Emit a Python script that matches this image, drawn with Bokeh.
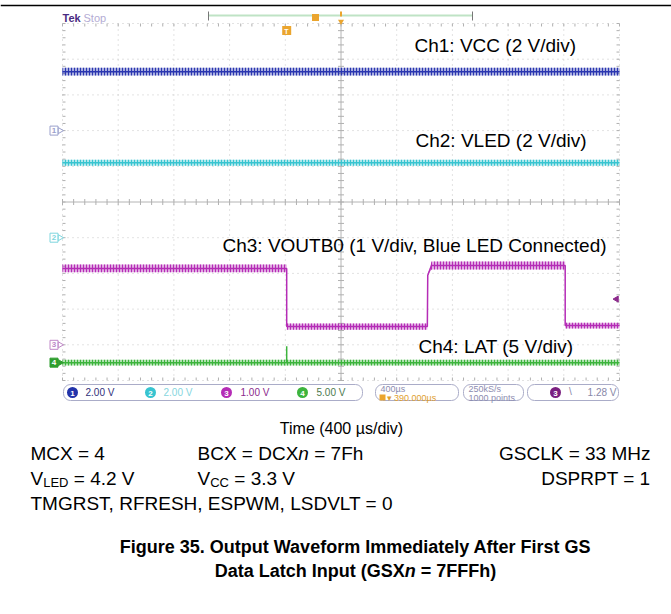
import numpy as np
from bokeh.plotting import figure
from bokeh.models import Range1d
from bokeh.core.properties import value
from bokeh.embed import file_html
from bokeh.resources import INLINE

# ---------------- data ----------------
time_per_div_us = 400
horiz_position_us = 390          # trigger sits 390 us left of screen centre
n_hdiv = 10
n_vdiv = 10

ch_labels = ["Ch1: VCC (2 V/div)", "Ch2: VLED (2 V/div)",
             "Ch3: VOUTB0 (1 V/div, Blue LED Connected)", "Ch4: LAT (5 V/div)"]
ch_colors = ["#2a36b0", "#38c4d0", "#b52cb6", "#3db43d"]
volts_per_div = [2.0, 2.0, 1.0, 5.0]
ground_div = [2.0, -1.0, -4.0, -4.5]        # channel ground markers
scale_texts = ["2.00 V", "2.00 V", "1.00 V", "5.00 V"]
scale_text_colors = ["#30307a", "#86d6de", "#8c2a8c", "#4d7a4d"]

vcc_t_us = [-1610, 2390]
vcc_v = [3.3, 3.3]
vcc_noise_v = [0.22, 0.22]

vled_t_us = [-1610, 2390]
vled_v = [4.2, 4.2]
vled_noise_v = [0.17, 0.17]

voutb0_t_us = [-1610, 0, 0, 1010, 1013, 1040, 2000, 2000, 2390]
voutb0_v = [2.14, 2.14, 0.51, 0.51, 1.95, 2.22, 2.22, 0.54, 0.54]
voutb0_noise_v = [0.11, 0.11, 0.09, 0.09, 0.0, 0.11, 0.11, 0.08, 0.08]

lat_t_us = [-1610, 0, 0, 0, 2390]
lat_v = [0.0, 0.0, 2.3, 0.0, 0.0]
lat_noise_v = [0.4, 0.4, 0.0, 0.4, 0.4]

trigger_level_v = 1.28
timebase_text = "400µs"
position_text = "▾ 390.000µs"
sample_rate_text = "250kS/s"
record_text = "1000 points"
trig_text = "1.28 V"

axis_title = "Time (400 µs/div)"
caption1 = "Figure 35. Output Waveform Immediately After First GS"

# ---------------- geometry (page pixels -> scope units) ----------------
W, H = 671, 614
T_LEFT = horiz_position_us - n_hdiv / 2 * time_per_div_us
T_RIGHT = T_LEFT + n_hdiv * time_per_div_us
PX_PER_US = 55.7 / time_per_div_us
PX_PER_DIV = 35.7
T_CENTER = T_LEFT + n_hdiv / 2 * time_per_div_us
VTOP = n_vdiv / 2


def X(ix):
    return T_LEFT + (ix - 62) / PX_PER_US


def Y(iy):
    return (201.5 - iy) / PX_PER_DIV


p = figure(width=W, height=H, x_range=Range1d(X(0), X(W)),
           y_range=Range1d(Y(H), Y(0)), x_axis_type=None, y_axis_type=None,
           toolbar_location=None, output_backend="svg", min_border=0)
p.outline_line_color = None
p.background_fill_color = "white"
p.border_fill_color = "white"

FONT = value("Liberation Sans")


def txt(ix, iy, s, size, color="#000000", align="left", style="normal"):
    p.text(x=[X(ix)], y=[Y(iy)], text=[s], text_font=FONT,
           text_font_size=f"{size}px", text_color=color, text_align=align,
           text_baseline="middle", text_font_style=style)


# page rule at top
p.segment(x0=[X(0)], y0=[Y(5)], x1=[X(W)], y1=[Y(5)], line_color="black", line_width=1.5)

# ---------------- graticule ----------------
vx = T_LEFT + np.arange(n_hdiv + 1) * time_per_div_us
vx = vx[vx != T_CENTER]
p.segment(x0=vx, y0=-VTOP, x1=vx, y1=VTOP, line_color="#c6c6c6", line_width=1, line_dash="1 4")
hy = np.arange(-VTOP, VTOP + 0.5, 1.0)
hy = hy[hy != 0]
p.segment(x0=T_LEFT, y0=hy, x1=T_RIGHT, y1=hy, line_color="#c6c6c6", line_width=1, line_dash="1 4")
p.segment(x0=[T_CENTER, T_LEFT], y0=[-VTOP, 0], x1=[T_CENTER, T_RIGHT], y1=[VTOP, 0],
          line_color="#b4b4b4", line_width=1)

minor_v = np.arange(-VTOP, VTOP + 0.01, 0.2)
minor_t = T_LEFT + np.arange(0, n_hdiv * 5 + 1) * time_per_div_us / 5
tdx = 3 / PX_PER_US
tdy = 3 / PX_PER_DIV
tick_col = "#b0b0b0"
p.segment(x0=T_CENTER - tdx, y0=minor_v, x1=T_CENTER + tdx, y1=minor_v, line_color=tick_col)
p.segment(x0=minor_t, y0=-tdy, x1=minor_t, y1=tdy, line_color=tick_col)
p.segment(x0=T_LEFT, y0=minor_v, x1=T_LEFT + tdx, y1=minor_v, line_color=tick_col)
p.segment(x0=T_RIGHT - tdx, y0=minor_v, x1=T_RIGHT, y1=minor_v, line_color=tick_col)
p.segment(x0=minor_t, y0=VTOP, x1=minor_t, y1=VTOP - tdy, line_color=tick_col)
p.segment(x0=minor_t, y0=-VTOP, x1=minor_t, y1=-VTOP + tdy, line_color=tick_col)

# ---------------- traces ----------------
series = [(vcc_t_us, vcc_v, vcc_noise_v), (vled_t_us, vled_v, vled_noise_v),
          (voutb0_t_us, voutb0_v, voutb0_noise_v), (lat_t_us, lat_v, lat_noise_v)]
for i, (t, v, nz) in enumerate(series):
    t = np.asarray(t, float)
    s = ground_div[i] + np.asarray(v, float) / volts_per_div[i]
    a = np.asarray(nz, float) / volts_per_div[i]
    p.varea(x=t, y1=s - a, y2=s + a, fill_color=ch_colors[i], fill_alpha=0.4,
            hatch_pattern="|", hatch_color=ch_colors[i], hatch_scale=3, hatch_weight=1, hatch_alpha=1.0)
    p.line(t, s, line_color=ch_colors[i], line_width=1.5)

# channel ground markers on the left
mk_outline = ["#9aa0cc", "#7fd6de", "#c088c8", "#2e9e2e"]
for i in range(4):
    filled = i == 3
    p.rect(x=[X(53.5)], y=[ground_div[i]], width=8, height=9, width_units="screen",
           height_units="screen", fill_color=mk_outline[i] if filled else "white",
           line_color=mk_outline[i])
    p.scatter(x=[X(59.5)], y=[ground_div[i]], marker="triangle", angle=-np.pi / 2, size=6,
              fill_color=mk_outline[i] if filled else "white", line_color=mk_outline[i])
    txt(53.5, 201.5 - ground_div[i] * PX_PER_DIV, str(i + 1), 8,
        color="white" if filled else mk_outline[i], align="center", style="bold")

# trigger level marker (right edge)
p.scatter(x=[X(616)], y=[ground_div[2] + trigger_level_v / volts_per_div[2]], marker="triangle",
          angle=np.pi / 2, size=6, fill_color="#8c2a8c", line_color="#8c2a8c")

# channel captions
cap_pos = [(414, 45), (415, 140), (222, 245), (418, 346)]
for (ix, iy), lab in zip(cap_pos, ch_labels):
    txt(ix, iy, lab, 19)

# ---------------- top status line ----------------
txt(62, 17, "Tek", 11, color="#4a2c82", style="bold")
txt(83, 17, "Stop", 11, color="#b4acd4")
p.segment(x0=[X(208)], y0=[Y(15)], x1=[X(472)], y1=[Y(15)], line_color="#bfe3c5", line_width=2)
p.segment(x0=[X(208), X(472)], y0=[Y(11), Y(11)], x1=[X(208), X(472)], y1=[Y(20), Y(20)],
          line_color="#777777", line_width=1)
p.rect(x=[X(315)], y=[Y(17)], width=7, height=7, width_units="screen", height_units="screen",
       fill_color="#eba52e", line_color=None)
p.segment(x0=[T_CENTER], y0=[Y(11)], x1=[T_CENTER], y1=[Y(16)], line_color="#eba52e", line_width=2)
p.scatter(x=[T_CENTER], y=[Y(21)], marker="inverted_triangle", size=6, fill_color="#eba52e",
          line_color=None)
# trigger position marker at the top of the graticule
p.rect(x=[0], y=[Y(30)], width=9, height=9, width_units="screen", height_units="screen",
       fill_color="#eba52e", line_color=None)
txt(286, 30.5, "T", 7, color="white", align="center", style="bold")

# ---------------- readout bar ----------------
boxes = [(63, 362), (375, 458), (463, 523), (527, 618)]
for l, r in boxes:
    q = p.quad(left=[X(l)], right=[X(r)], bottom=[Y(400)], top=[Y(384)], fill_color=None,
               line_color="#aaacc8", line_width=1)
    try:
        q.glyph.border_radius = 7
    except Exception:
        pass

badge_x = [72, 150, 226, 302]
text_x = [85, 163, 240, 316]
for i in range(4):
    p.scatter(x=[X(badge_x[i])], y=[Y(392)], marker="circle", size=11,
              fill_color=ch_colors[i] if i != 0 else "#2233aa", line_color=None)
    txt(badge_x[i], 392.5, str(i + 1), 8, color="white", align="center", style="bold")
    txt(text_x[i], 392, scale_texts[i], 10, color=scale_text_colors[i])

txt(380, 388, timebase_text, 9, color="#8c8cb0")
p.rect(x=[X(382)], y=[Y(397)], width=6, height=6, width_units="screen", height_units="screen",
       fill_color="#eba52e", line_color=None)
txt(386, 397, position_text, 9, color="#e0a030")
txt(468, 388, sample_rate_text, 9, color="#8c8cb0")
txt(468, 397, record_text, 9, color="#8c8cb0")
p.scatter(x=[X(555)], y=[Y(392)], marker="circle", size=11, fill_color="#7a2080", line_color=None)
txt(555, 392.5, "3", 8, color="white", align="center", style="bold")
txt(570, 391, "\\", 10, color="#8888a8", align="center")
txt(616, 392, trig_text, 10, color="#8888a8", align="right")

# ---------------- texts below the screen ----------------
txt(341, 428, axis_title, 16, align="center")
F = 19
txt(30, 453, "MCX = 4", F)
txt(197, 453, "BCX = DCX", F)
txt(297.8, 453, "n", F, style="italic")
txt(313.7, 453, "= 7Fh", F)
txt(650, 453, "GSCLK = 33 MHz", F, align="right")
txt(30, 478, "V", F)
txt(42.7, 482, "LED", 13)
txt(73.3, 478, "= 4.2 V", F)
txt(197, 478, "V", F)
txt(209.7, 482, "CC", 13)
txt(233.8, 478, "= 3.3 V", F)
txt(650, 478, "DSPRPT = 1", F, align="right")
txt(30, 503, "TMGRST, RFRESH, ESPWM, LSDVLT = 0", F)

txt(355, 546, caption1, 18, align="center", style="bold")
txt(214.2, 570, "Data Latch Input (GSX", 18, style="bold")
txt(404.2, 570, "n", 18, style="bold italic")
txt(420.2, 570, "= 7FFFh)", 18, style="bold")

open("out.html", "w", encoding="utf-8").write(file_html(p, INLINE))
